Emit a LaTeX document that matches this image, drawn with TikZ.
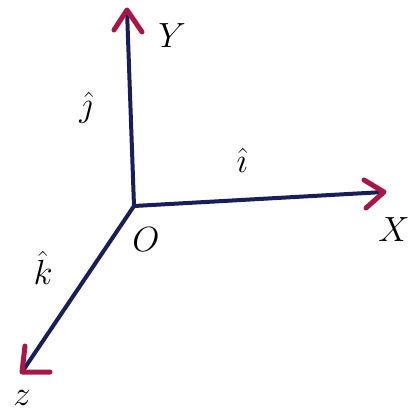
\documentclass[tikz,border=0pt]{standalone}
\usepackage{amsmath}
\usepackage{fix-cm}
\begin{document}
\begin{tikzpicture}[x=1pt,y=-1pt,
  axis/.style={line width=4pt,draw={rgb,255:red,24;green,30;blue,88},line cap=round},
  headarm/.style={line width=5pt,draw={rgb,255:red,168;green,22;blue,72},line cap=round,line join=round},
  lbl/.style={font=\fontsize{35}{35}\selectfont,text=black,inner sep=0pt}]
\fill[white] (0,0) rectangle (412,414);
\useasboundingbox (0,0) rectangle (412,414);
\coordinate (O) at (134,206);
\coordinate (Y) at (127,10);
\coordinate (X) at (384,192);
\coordinate (Z) at (22,372);
\draw[axis] (O) -- (Y);
\draw[axis] (O) -- (X);
\draw[axis] (O) -- (Z);
\draw[headarm] (114,30) -- (Y) -- (142,32);
\draw[headarm] (364,180) -- (X) -- (366,208);
\draw[headarm] (25,346) -- (Z) -- (50,372);
\node[lbl] (ly) at (172,36) {$Y$};
\node[lbl] (lj) at (86,108) {$\hat{\jmath}$};
\node[lbl] (li) at (242,160) {$\hat{\imath}$};
\node[lbl] (lx) at (394,230) {$X$};
\node[lbl] (lo) at (146,240) {$O$};
\node[lbl] (lk) at (43,268) {$\hat{k}$};
\node[lbl] (lz) at (22,398) {$z$};
\end{tikzpicture}
\end{document}
